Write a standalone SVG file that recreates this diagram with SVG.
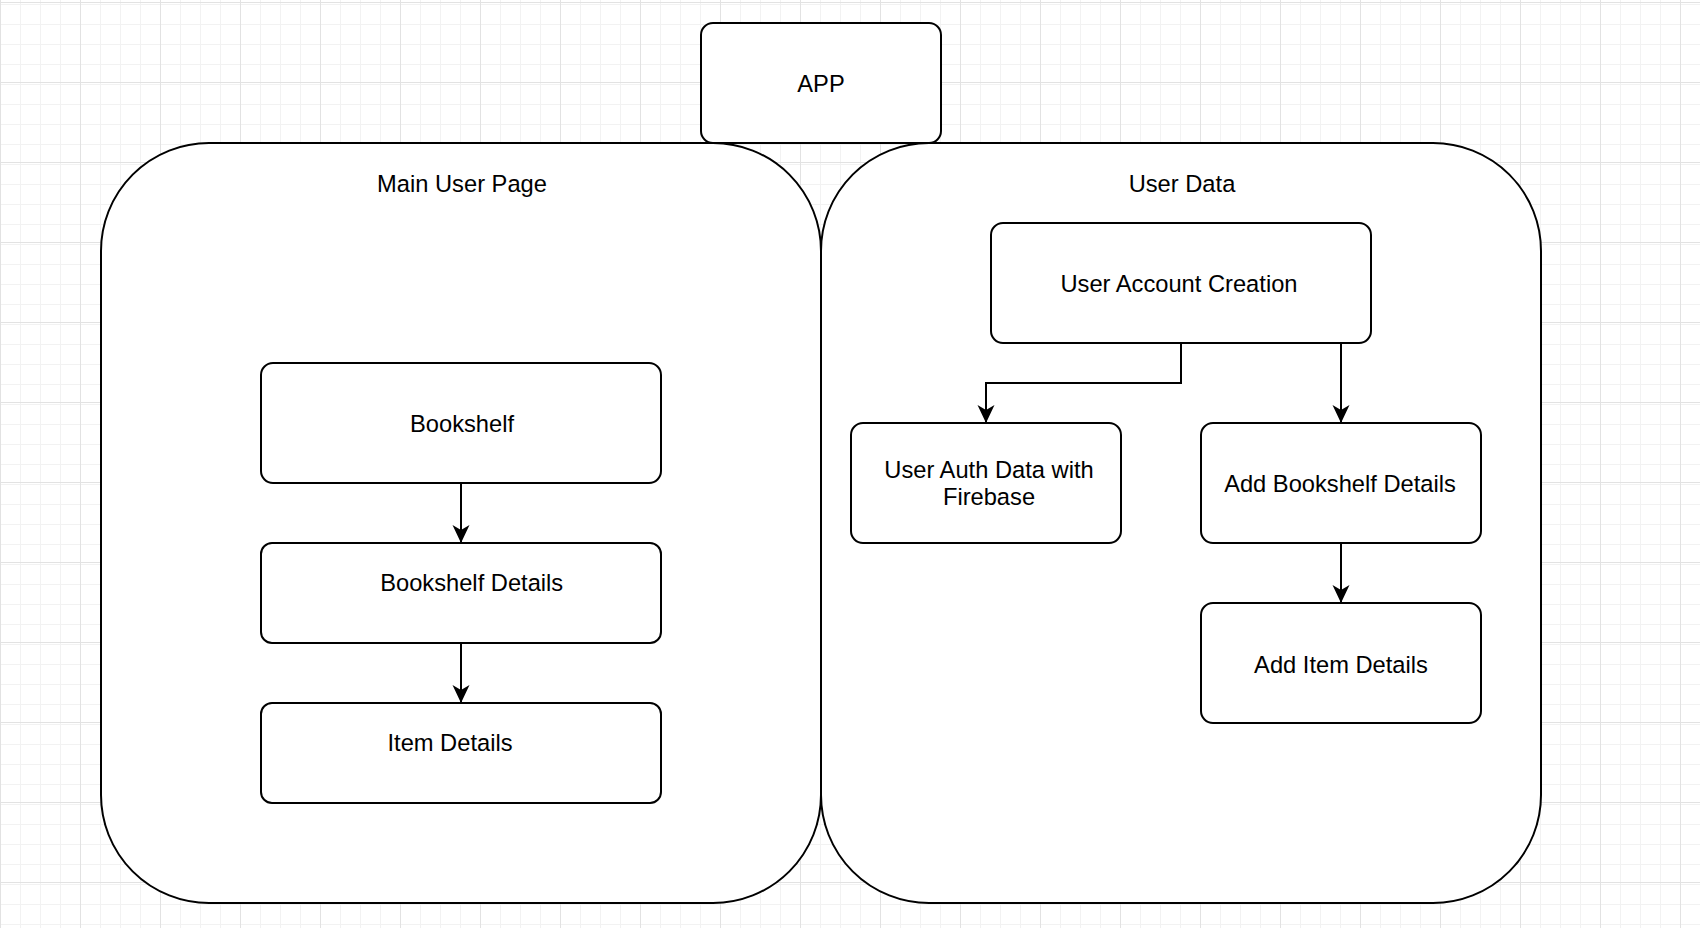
<svg xmlns="http://www.w3.org/2000/svg" width="1700" height="928" viewBox="0 0 1700 928">
<defs>
<pattern id="minor" patternUnits="userSpaceOnUse" x="0" y="2" width="20" height="20">
<rect x="0" y="0" width="20" height="1" fill="#f2f2f2"/>
<rect x="0" y="0" width="1" height="20" fill="#f2f2f2"/>
</pattern>
<pattern id="major" patternUnits="userSpaceOnUse" x="0" y="2" width="80" height="80">
<rect x="0" y="0" width="80" height="80" fill="url(#minor)"/>
<rect x="0" y="0" width="80" height="1" fill="#e2e2e2"/>
<rect x="0" y="0" width="1" height="80" fill="#e2e2e2"/>
</pattern>
<marker id="arrow" markerUnits="userSpaceOnUse" markerWidth="18" markerHeight="18" viewBox="0 0 18 18" refX="17" refY="9" orient="auto">
<path d="M0,0.5 L18,9 L0,17.5 L5,9 Z" fill="#000"/>
</marker>
</defs>
<style>
.shape{fill:#fff;stroke:#000;stroke-width:2}
.lbl{font-family:"Liberation Sans",Arial,Helvetica,sans-serif;font-size:23.7px;fill:#000;text-anchor:middle}
.edge{fill:none;stroke:#000;stroke-width:2;marker-end:url(#arrow)}
</style>
<rect x="0" y="0" width="1700" height="928" fill="#fff"/>
<rect x="0" y="0" width="1700" height="928" fill="url(#major)"/>

<g id="main-user-page">
<rect class="shape" x="101" y="143" width="720" height="760" rx="108" ry="108"/>
<text class="lbl" x="462" y="191.7">Main User Page</text>
</g>
<g id="user-data">
<rect class="shape" x="821" y="143" width="720" height="760" rx="108" ry="108"/>
<text class="lbl" x="1182" y="191.7">User Data</text>
</g>
<g id="app">
<rect class="shape" x="701" y="23" width="240" height="120" rx="12" ry="12"/>
<text class="lbl" x="821" y="92">APP</text>
</g>
<g id="bookshelf">
<rect class="shape" x="261" y="363" width="400" height="120" rx="12" ry="12"/>
<text class="lbl" x="462" y="431.7">Bookshelf</text>
</g>
<g id="bookshelf-details">
<rect class="shape" x="261" y="543" width="400" height="100" rx="11" ry="11"/>
<text class="lbl" x="471.7" y="590.7">Bookshelf Details</text>
</g>
<g id="item-details">
<rect class="shape" x="261" y="703" width="400" height="100" rx="11" ry="11"/>
<text class="lbl" x="450" y="751">Item Details</text>
</g>
<g id="user-account-creation">
<rect class="shape" x="991" y="223" width="380" height="120" rx="12" ry="12"/>
<text class="lbl" x="1179" y="291.7">User Account Creation</text>
</g>
<g id="user-auth-data">
<rect class="shape" x="851" y="423" width="270" height="120" rx="12" ry="12"/>
<text class="lbl" x="989" y="477.7">User Auth Data with</text>
<text class="lbl" x="989" y="505.3">Firebase</text>
</g>
<g id="add-bookshelf-details">
<rect class="shape" x="1201" y="423" width="280" height="120" rx="12" ry="12"/>
<text class="lbl" x="1340" y="492">Add Bookshelf Details</text>
</g>
<g id="add-item-details">
<rect class="shape" x="1201" y="603" width="280" height="120" rx="12" ry="12"/>
<text class="lbl" x="1341" y="672.7">Add Item Details</text>
</g>

<g id="connectors">
<path class="edge" d="M461,483 V542"/>
<path class="edge" d="M461,643 V702"/>
<path class="edge" d="M1181,343 V383 H986 V422"/>
<path class="edge" d="M1341,343 V422"/>
<path class="edge" d="M1341,543 V602"/>
</g>
</svg>
